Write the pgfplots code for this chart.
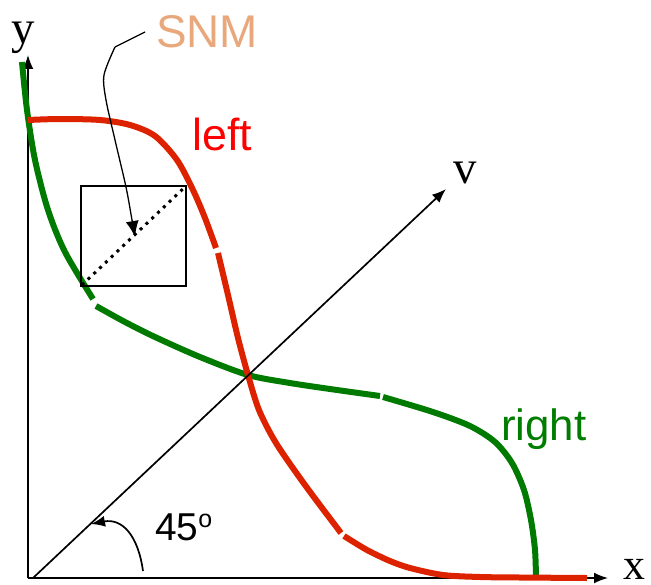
\documentclass[border=0pt]{standalone}
\usepackage{fontspec}
\setmainfont{Liberation Sans}
\newfontfamily\seriffont{Liberation Serif}
\usepackage{pgfplots}
\pgfplotsset{compat=1.18}
\usetikzlibrary{arrows.meta}
\definecolor{curvered}{RGB}{221,34,0}
\definecolor{curvegreen}{RGB}{0,122,0}
\definecolor{snmcol}{RGB}{232,168,124}
\definecolor{labelred}{RGB}{255,0,0}
\definecolor{labelgreen}{RGB}{0,125,0}
\begin{document}
\begin{tikzpicture}
\begin{axis}[scale only axis, width=651bp, height=585bp,
  xmin=0, xmax=651, ymin=0, ymax=585, y dir=reverse,
  hide axis, clip=false]
% frame of the drawing area
\path (axis cs:0,0) (axis cs:651,585);
% x and y axes
\draw[line width=1.7bp, -{Latex[length=14bp,width=11bp]}] (axis cs:28,578) -- (axis cs:28,55);
\draw[line width=1.7bp, -{Latex[length=14bp,width=11bp]}] (axis cs:28,578) -- (axis cs:608,578);
\node[inner sep=0, anchor=base] at (axis cs:23,44) {\fontsize{47}{50}\selectfont\seriffont y};
\node[inner sep=0, anchor=base west] at (axis cs:623,579) {\fontsize{44}{50}\selectfont\seriffont x};
% right inverter transfer curve
\addplot[curvegreen, line width=6bp, smooth] coordinates {
 (22,62) (27,110) (35,160) (48,210) (65,252) (93,299)};
\addplot[curvegreen, line width=6bp, smooth] coordinates {
 (96,306) (125,322) (155,337) (200,357) (248,375) (290,383) (330,389) (380,396)};
\addplot[curvegreen, line width=6bp, smooth] coordinates {
 (383,397) (433,412) (470,426) (495,442) (512,463) (524,490) (531,520) (535,550) (536,578)};
% left inverter transfer curve
\addplot[curvered, line width=6bp, smooth] coordinates {
 (28,120) (60,119) (100,120) (130,125) (155,136) (177,160) (193,190) (205,218) (216,248)};
\addplot[curvered, line width=6bp, smooth] coordinates {
 (218,253) (228,295) (238,338) (248,375) (259,410) (276,443) (305,485) (341,533)};
\addplot[curvered, line width=6bp, smooth] coordinates {
 (344,536) (367,550) (390,561) (410,568) (443,575) (480,577) (520,577.5) (587,578)};
% 45 degree line
\draw[line width=1.7bp, -{Latex[length=14bp,width=11bp]}] (axis cs:33,578) -- (axis cs:446,189);
\node[inner sep=0, anchor=base] at (axis cs:465,183) {\fontsize{47}{50}\selectfont\seriffont v};
% noise margin square
\draw[line width=1.7bp] (axis cs:81,186) rectangle (axis cs:186,286);
\draw[line width=3bp, dash pattern=on 3bp off 5bp] (axis cs:82,285) -- (axis cs:185,187);
% SNM annotation
\node[inner sep=0, anchor=base west, text=snmcol] at (axis cs:156,48) {\fontsize{46}{50}\selectfont SNM};
\draw[line width=1.3bp] (axis cs:145,32) -- (axis cs:115,47);
\draw[line width=1.3bp, -{Latex[length=16bp,width=13bp]}] plot[smooth] coordinates {
 (axis cs:115,47) (axis cs:104,75) (axis cs:106,100) (axis cs:115,140) (axis cs:126,187) (axis cs:132,220) (axis cs:135,237)};
% curve labels
\node[inner sep=0, anchor=base west, text=labelred] at (axis cs:192,150) {\fontsize{45}{50}\selectfont left};
\node[inner sep=0, anchor=base west, text=labelgreen] at (axis cs:501,440) {\fontsize{44}{50}\selectfont right};
% angle marker
\draw[line width=1.7bp, -{Latex[length=14bp,width=11bp]}] (axis cs:143,571) .. controls (axis cs:138,535) and (axis cs:122,518) .. (axis cs:91,524);
\node[inner sep=0, anchor=base west] at (axis cs:155,540) {\fontsize{39}{44}\selectfont 45\raisebox{13bp}{\fontsize{25}{28}\selectfont o}};
\end{axis}
\end{tikzpicture}
\end{document}
